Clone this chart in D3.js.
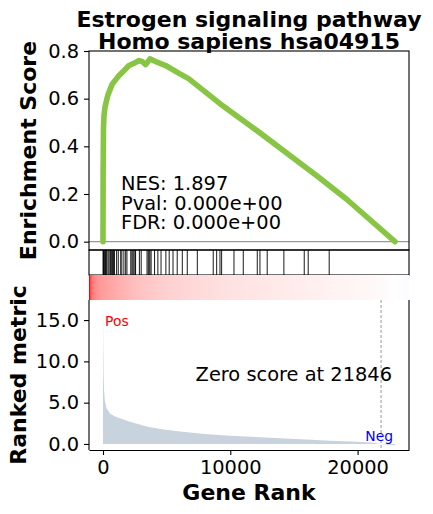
<!DOCTYPE html>
<html lang="en">
<head>
    <meta charset="utf-8">
    <title>GSEA plot</title>
    <script src="https://cdn.jsdelivr.net/npm/d3@7"></script>
</head>
<style>
    body {
        margin: 0;
        padding: 0;
        background-color: #ffffff;
        font-family: "DejaVu Sans", sans-serif;
    }
    .tick text {
        font-size: 19.4px;
        font-family: "DejaVu Sans", sans-serif;
        fill: #000;
    }
    .tick line, .domain {
        stroke: #000;
        stroke-width: 1.1;
    }
    .axis-title {
        font-size: 22px;
        font-weight: bold;
    }
    .stat-text {
        font-size: 19.4px;
    }
</style>
<body>
    <svg width="433" height="514" id="chart"></svg>

    <script>
        // running enrichment score: [rank, ES]
        var esPoints = [
            [0, 0], [10, 0.30], [40, 0.48], [80, 0.53], [160, 0.565], [340, 0.606],
            [420, 0.62], [730, 0.662], [1260, 0.697], [1600, 0.715], [2040, 0.739],
            [2500, 0.75], [2830, 0.76], [3100, 0.755], [3350, 0.743], [3690, 0.767],
            [4300, 0.752], [4920, 0.739], [6050, 0.704], [6750, 0.683], [9190, 0.579],
            [12070, 0.467], [15210, 0.341], [17000, 0.268], [19140, 0.178], [22940, 0]
        ];

        // positions of the gene set members in the ranked list
        var hitRanks = [
            0, 40, 90, 140, 190, 250, 300, 400, 480, 580, 640, 700, 760, 820, 900,
            1070, 1200, 1390, 1480, 1640, 1780, 1880, 2180, 2270, 2350, 2430, 2520,
            2560, 2860, 3000, 3460, 3550, 3620, 3690, 3780, 4050, 4310, 4560, 4940,
            5200, 5500, 5830, 6230, 6620, 7410, 8660, 8930, 9190, 9320, 10290, 11020,
            12120, 12330, 12900, 14210, 15810, 16120, 17770
        ];

        // ranked metric: [rank, value]
        var metricPoints = [
            [0, 16.7], [20, 12], [50, 8.5], [80, 6.5], [150, 5.2], [290, 4.3],
            [550, 3.7], [900, 3.35], [1335, 3.1], [2120, 2.7], [3430, 2.1],
            [4500, 1.8], [6050, 1.5], [8000, 1.22], [9970, 1.0], [12000, 0.84],
            [13900, 0.69], [16000, 0.54], [17830, 0.4], [20000, 0.26], [21000, 0.18],
            [21846, 0], [22400, -0.08], [22940, -0.15]
        ];

        var zeroScore = 21846;
        var nGenes = 22940;
        var statLines = ["NES: 1.897", "Pval: 0.000e+00", "FDR: 0.000e+00"];
        var titleLines = ["Estrogen signaling pathway", "Homo sapiens hsa04915"];
        var esTicks = [0, 0.2, 0.4, 0.6, 0.8];
        var metricTicks = [0, 5, 10, 15];
        var rankTicks = [0, 10000, 20000];

        var svg = d3.select("#chart");
        var left = 89, right = 409;
        var esTop = 51, esBottom = 250;
        var hitTop = 250, hitBottom = 275;
        var gradTop = 275, gradBottom = 300;
        var rmTop = 300, rmBottom = 450;

        var x = d3.scaleLinear().domain([-1100, 24040]).range([left, right]);
        var yEs = d3.scaleLinear().domain([-0.035, 0.8]).range([esBottom, esTop]);
        var yRm = d3.scaleLinear().domain([-0.73, 17.43]).range([rmBottom, rmTop]);

        // ---- top panel: enrichment score
        svg.append("line")
            .attr("x1", left).attr("x2", right)
            .attr("y1", yEs(0)).attr("y2", yEs(0))
            .style("stroke", "#999999")
            .style("stroke-width", 1.4);

        svg.append("path")
            .datum(esPoints)
            .attr("d", d3.line()
                .x(function(d) { return x(d[0]); })
                .y(function(d) { return yEs(d[1]); }))
            .style("fill", "none")
            .style("stroke", "#88C544")
            .style("stroke-width", 5.6)
            .style("stroke-linejoin", "round")
            .style("stroke-linecap", "round");

        svg.append("rect")
            .attr("x", left).attr("y", esTop)
            .attr("width", right - left).attr("height", esBottom - esTop)
            .style("fill", "none").style("stroke", "#000").style("stroke-width", 1.1);

        svg.append("g")
            .attr("transform", "translate(" + left + ",0)")
            .call(d3.axisLeft(yEs).tickValues(esTicks).tickFormat(d3.format(".1f"))
                .tickSize(5).tickPadding(5).tickSizeOuter(0))
            .select(".domain").remove();

        var stats = svg.append("text")
            .attr("class", "stat-text")
            .attr("x", 121)
            .attr("y", 190);
        statLines.forEach(function(s, i) {
            stats.append("tspan").attr("x", 121).attr("y", 190 + i * 19.6).text(s);
        });

        // ---- hits panel
        svg.selectAll(".hit")
            .data(hitRanks)
            .enter()
            .append("line")
            .attr("class", "hit")
            .attr("x1", function(d) { return x(d); })
            .attr("x2", function(d) { return x(d); })
            .attr("y1", hitTop).attr("y2", hitBottom)
            .style("stroke", "#000")
            .style("stroke-width", 0.9);

        svg.append("rect")
            .attr("x", left).attr("y", hitTop)
            .attr("width", right - left).attr("height", hitBottom - hitTop)
            .style("fill", "none").style("stroke", "#000").style("stroke-width", 1.1);

        // ---- gradient bar coloured by the ranked metric (seismic-like),
        // stretched over the full panel width like an imshow strip
        var vmax = 17;
        function metricColor(v) {
            var f = Math.max(-1, Math.min(1, 2 * v / vmax));
            if (f >= 0) return d3.interpolateRgb("#ffffff", "#ff0000")(f);
            return d3.interpolateRgb("#ffffff", "#0000ff")(-f);
        }
        var gradX = d3.scaleLinear().domain([0, nGenes]).range([0, 1]);
        var grad = svg.append("defs").append("linearGradient")
            .attr("id", "rankGrad")
            .attr("x1", 0).attr("x2", 1)
            .attr("y1", 0).attr("y2", 0);
        grad.selectAll("stop")
            .data(metricPoints)
            .enter()
            .append("stop")
            .attr("offset", function(d) { return gradX(d[0]); })
            .attr("stop-color", function(d) { return metricColor(d[1]); });

        svg.append("rect")
            .attr("x", left).attr("y", gradTop)
            .attr("width", right - left).attr("height", gradBottom - gradTop)
            .style("fill", "url(#rankGrad)");

        // ---- ranked metric panel
        svg.append("path")
            .datum(metricPoints)
            .attr("d", d3.area()
                .x(function(d) { return x(d[0]); })
                .y0(yRm(0))
                .y1(function(d) { return yRm(d[1]); }))
            .style("fill", "#C9D3DE");

        svg.append("line")
            .attr("x1", x(zeroScore)).attr("x2", x(zeroScore))
            .attr("y1", rmTop).attr("y2", rmBottom)
            .style("stroke", "#999999")
            .style("stroke-width", 1)
            .style("stroke-dasharray", "3,2");

        svg.append("text")
            .attr("x", left + 0.05 * (right - left))
            .attr("y", 326)
            .style("font-size", "13.9px")
            .style("fill", "red")
            .text("Pos");

        svg.append("text")
            .attr("x", left + 0.95 * (right - left))
            .attr("y", 441)
            .attr("text-anchor", "end")
            .style("font-size", "13.9px")
            .style("fill", "blue")
            .text("Neg");

        svg.append("text")
            .attr("class", "stat-text")
            .attr("x", left + 0.64 * (right - left))
            .attr("y", 381)
            .attr("text-anchor", "middle")
            .text("Zero score at " + zeroScore);

        svg.append("line")
            .attr("x1", left).attr("x2", left).attr("y1", rmTop).attr("y2", rmBottom)
            .style("stroke", "#000").style("stroke-width", 1.1);
        svg.append("line")
            .attr("x1", right).attr("x2", right).attr("y1", rmTop).attr("y2", rmBottom)
            .style("stroke", "#000").style("stroke-width", 1.1);

        svg.append("g")
            .attr("transform", "translate(" + left + ",0)")
            .call(d3.axisLeft(yRm).tickValues(metricTicks).tickFormat(d3.format(".1f"))
                .tickSize(5).tickPadding(5).tickSizeOuter(0))
            .select(".domain").remove();

        svg.append("g")
            .attr("transform", "translate(0," + rmBottom + ")")
            .call(d3.axisBottom(x).tickValues(rankTicks).tickFormat(d3.format("d"))
                .tickSize(5).tickPadding(5).tickSizeOuter(0));

        // ---- titles
        svg.append("text")
            .attr("class", "axis-title")
            .attr("text-anchor", "middle")
            .attr("transform", "translate(36," + (esTop + esBottom) / 2 + ") rotate(-90)")
            .text("Enrichment Score");

        svg.append("text")
            .attr("class", "axis-title")
            .attr("text-anchor", "middle")
            .attr("transform", "translate(26," + (rmTop + rmBottom) / 2 + ") rotate(-90)")
            .text("Ranked metric");

        svg.append("text")
            .attr("class", "axis-title")
            .attr("text-anchor", "middle")
            .attr("x", (left + right) / 2)
            .attr("y", 500)
            .text("Gene Rank");

        titleLines.forEach(function(t, i) {
            svg.append("text")
                .attr("class", "axis-title")
                .attr("text-anchor", "middle")
                .attr("x", (left + right) / 2)
                .attr("y", 27 + i * 21.6)
                .text(t);
        });
    </script>
</body>
</html>
